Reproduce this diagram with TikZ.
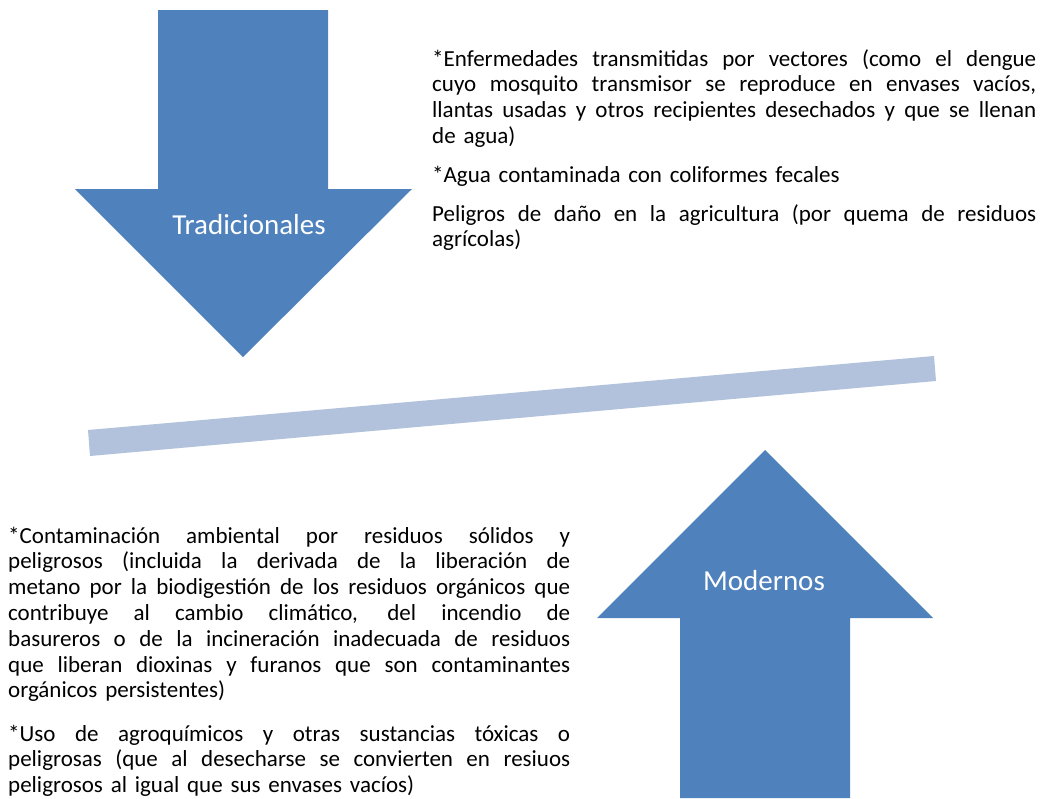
\documentclass[tikz,border=0pt]{standalone}
\usepackage{fontspec}
\setmainfont{Carlito}
\definecolor{arrowblue}{RGB}{79,129,189}
\definecolor{barblue}{RGB}{178,194,220}
\newcommand\parasetup{\fontsize{23}{25.8}\selectfont\spaceskip=0.34em plus 1em minus 0.14em\relax\hyphenpenalty=10000\relax\tolerance=10000\relax\hbadness=10000\relax\hfuzz=20pt\relax}
\begin{document}
\begin{tikzpicture}[x=1pt,y=-1pt,
  bigarrow/.style={fill=arrowblue,draw=none},
  arrowlabel/.style={text=white,font=\fontsize{29}{34}\selectfont,inner sep=0pt,anchor=base},
  para/.style={anchor=base west,inner sep=0pt,align=justify,font=\parasetup}]
\useasboundingbox[fill=white] (0,0) rectangle (1041,798);
% down arrow
\fill[bigarrow] (158,10) -- (328,10) -- (328,189) -- (412,189) -- (243,357) -- (75,189) -- (158,189) -- cycle;
\node[arrowlabel] (trad) at (249,234) {Tradicionales};
% up arrow
\fill[bigarrow] (765,450) -- (933,618) -- (850,618) -- (850,798) -- (680,798) -- (680,618) -- (597,618) -- cycle;
\node[arrowlabel] (mod) at (764,590) {Modernos};
% bar
\fill[barblue] (88,430) -- (934,356) -- (936,381) -- (90,456) -- cycle;
% top texts
\node[para,text width=604pt] (t1) at (432,66) {*Enfermedades transmitidas por vectores (como el dengue\linebreak cuyo mosquito transmisor se reproduce en envases vacíos,\linebreak llantas usadas y otros recipientes desechados y que se llenan\linebreak de agua)};
\node[para,text width=604pt] (t2) at (432,182) {*Agua contaminada con coliformes fecales};
\node[para,text width=604pt] (t3) at (432,221) {Peligros de daño en la agricultura (por quema de residuos\linebreak agrícolas)};
% bottom texts
\node[para,text width=562pt] (b1) at (8,543) {*Contaminación ambiental por residuos sólidos y\linebreak peligrosos (incluida la derivada de la liberación de\linebreak metano por la biodigestión de los residuos orgánicos que\linebreak contribuye al cambio climático, del incendio de\linebreak basureros o de la incineración inadecuada de residuos\linebreak que liberan dioxinas y furanos que son contaminantes\linebreak orgánicos persistentes)};
\node[para,text width=562pt] (b2) at (8,741) {*Uso de agroquímicos y otras sustancias tóxicas o\linebreak peligrosas (que al desecharse se convierten en resiuos\linebreak peligrosos al igual que sus envases vacíos)};
\end{tikzpicture}
\end{document}
